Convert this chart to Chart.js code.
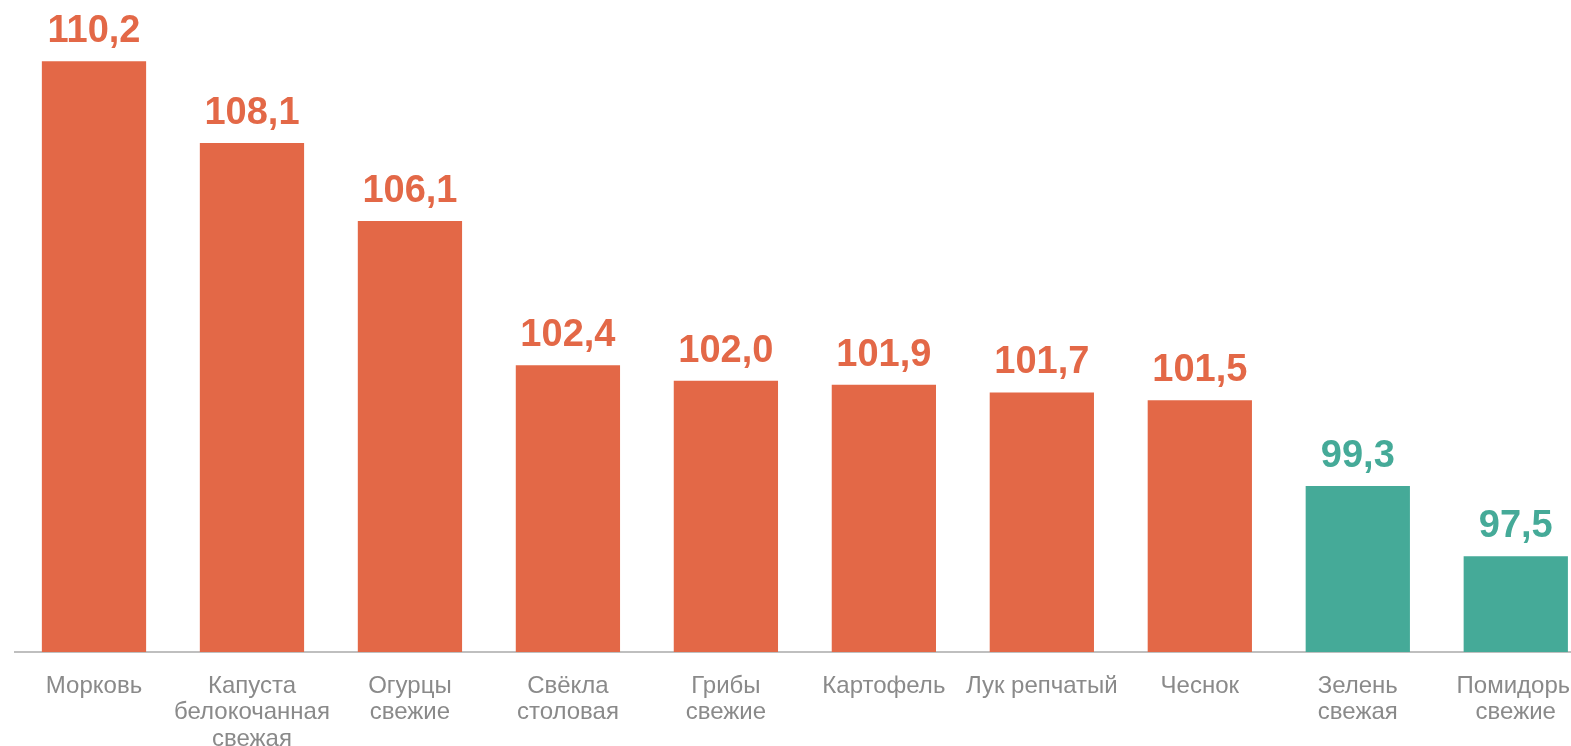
<!DOCTYPE html>
<html>
<head>
<meta charset="utf-8">
<script src="https://cdn.jsdelivr.net/npm/chart.js@4"></script>
<style>
  html, body { margin: 0; padding: 0; background: #fff; overflow: hidden; }
  #wrap { width: 1596px; height: 746px; position: relative; }
</style>
</head>
<body>
<div id="wrap"><canvas id="chart"></canvas></div>
<script>
// Индексы цен на овощи
const categories = [
    'Морковь',
    ['Капуста', 'белокочанная', 'свежая'],
    ['Огурцы', 'свежие'],
    ['Свёкла', 'столовая'],
    ['Грибы', 'свежие'],
    'Картофель',
    'Лук репчатый',
    'Чеснок',
    ['Зелень', 'свежая'],
    ['Помидоры', 'свежие']
];
const values = [110.2, 108.1, 106.1, 102.4, 102.0, 101.9, 101.7, 101.5, 99.3, 97.5];

const ORANGE = '#E36847';
const TEAL = '#45AA98';
const barColors = values.map(v => v >= 100 ? ORANGE : TEAL);

// подписи значений над столбцами
const valueLabels = {
    id: 'valueLabels',
    afterDatasetsDraw(chart) {
        const ctx = chart.ctx;
        const meta = chart.getDatasetMeta(0);
        ctx.save();
        ctx.font = 'bold 38px "Liberation Sans", Arial, sans-serif';
        ctx.textAlign = 'center';
        ctx.textBaseline = 'alphabetic';
        meta.data.forEach((bar, i) => {
            ctx.fillStyle = barColors[i];
            ctx.fillText(values[i].toFixed(1).replace('.', ','), bar.x, bar.y - 19);
        });
        ctx.restore();
    }
};

new Chart(document.getElementById('chart'), {
    type: 'bar',
    data: {
        labels: categories,
        datasets: [{
            data: values,
            backgroundColor: barColors,
            categoryPercentage: 1,
            barPercentage: 0.66
        }]
    },
    options: {
        responsive: true,
        maintainAspectRatio: false,
        animation: false,
        layout: { padding: { left: 15, right: 0, top: 0, bottom: 0 } },
        plugins: {
            legend: { display: false },
            tooltip: { enabled: false }
        },
        scales: {
            x: {
                grid: { display: false, drawTicks: false },
                border: { color: '#BFBFBF', width: 2 },
                ticks: {
                    color: '#8A8A8A',
                    font: { family: '"Liberation Sans", Arial, sans-serif', size: 24, lineHeight: 1.1 },
                    padding: 21,
                    autoSkip: false,
                    maxRotation: 0
                },
                afterFit(scale) { scale.height = 94; }
            },
            y: {
                display: false,
                min: 95.04,
                max: 111.77
            }
        }
    },
    plugins: [valueLabels]
});
</script>
</body>
</html>
